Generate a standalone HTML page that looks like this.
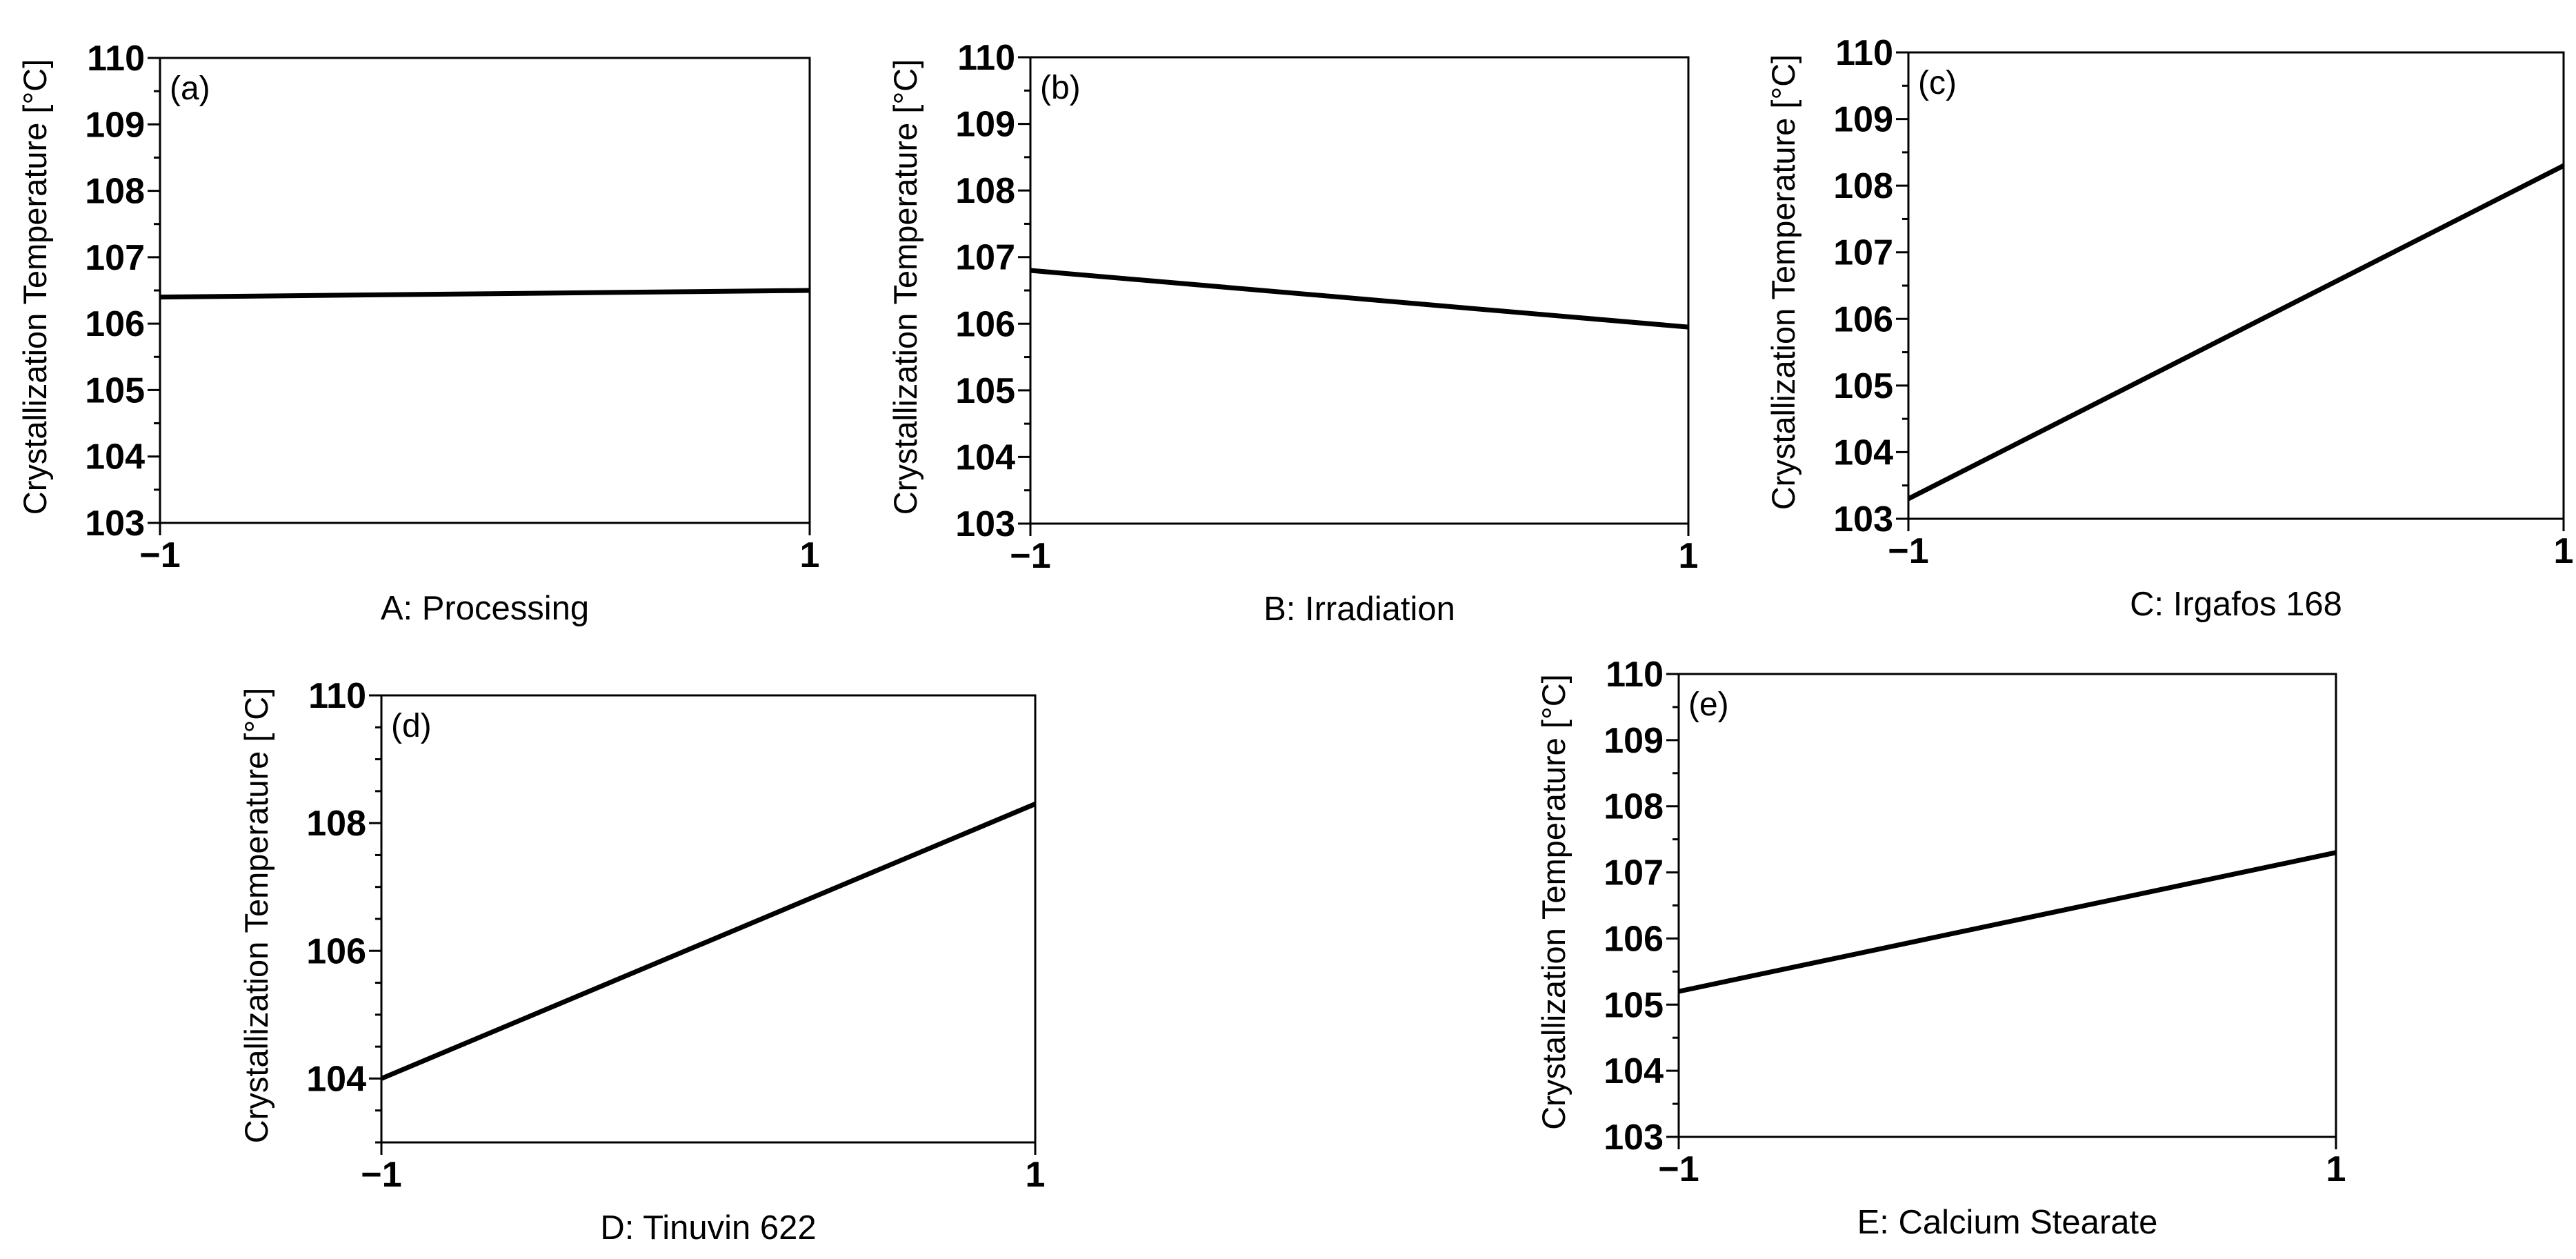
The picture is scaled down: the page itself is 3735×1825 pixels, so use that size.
<!DOCTYPE html>
<html><head><meta charset="utf-8"><style>
html,body{margin:0;padding:0;background:#fff;}
svg{display:block;font-family:"Liberation Sans",Arial,sans-serif;}
</style></head><body>
<svg id="fig" width="3735" height="1825" viewBox="0 0 3735 1825" xmlns="http://www.w3.org/2000/svg">
<rect x="0" y="0" width="3735" height="1825" fill="#fff"/>
</svg>
<script>
// Data per panel
const panelIds = ['a','b','c','d','e'];
const xLabels = ['A: Processing','B: Irradiation','C: Irgafos 168','D: Tinuvin 622','E: Calcium Stearate'];
const xValues = [-1, 1];
const seriesA = [106.4, 106.5];
const seriesB = [106.8, 105.95];
const seriesC = [103.3, 108.3];
const seriesD = [104.0, 108.3];
const seriesE = [105.2, 107.3];
const yTicksStep1 = [103,104,105,106,107,108,109,110];
const yTicksStep2 = [104,106,108,110];
const xTickLabels = ['\u22121','1'];

const series = [seriesA, seriesB, seriesC, seriesD, seriesE];
const layouts = [
  {l:232,r:1174,t:84,b:758},
  {l:1494,r:2448,t:83,b:759},
  {l:2767,r:3717,t:76,b:752},
  {l:553,r:1501,t:1008,b:1656},
  {l:2434,r:3387,t:977,b:1648}
];
const yTickSets = [yTicksStep1,yTicksStep1,yTicksStep1,yTicksStep2,yTicksStep1];
const yMin = 103, yMax = 110;
const NS = 'http://www.w3.org/2000/svg';
const svg = document.getElementById('fig');
function mk(tag, attrs, parent){
  const e = document.createElementNS(NS, tag);
  for (const k in attrs) e.setAttribute(k, attrs[k]);
  parent.appendChild(e);
  return e;
}
panelIds.forEach((id, i) => {
  const L = layouts[i];
  const g = mk('g', {}, svg);
  
  
  const xs = v => L.l + (v - (-1)) / 2 * (L.r - L.l);
  const ys = v => L.b - (v - yMin) / (yMax - yMin) * (L.b - L.t);
  const frame = mk('rect', {x:L.l, y:L.t, width:L.r-L.l, height:L.b-L.t, fill:'none', stroke:'#000', 'stroke-width':3}, g);
  
  
  for (let v = yMin; v <= yMax + 1e-9; v += 0.5) {
    const isMajor = yTickSets[i].some(t => Math.abs(t - v) < 1e-9);
    const len = isMajor ? 18 : 9;
    const tk = mk('line', {x1:L.l-len, x2:L.l, y1:ys(v), y2:ys(v), stroke:'#000', 'stroke-width':3}, g);
    
    
  }
  yTickSets[i].forEach(v => {
    const t = mk('text', {x:L.l-22, y:ys(v)+18, 'text-anchor':'end', 'font-size':52, 'font-weight':'bold', fill:'#000'}, g);
    
    
    t.textContent = String(v);
  });
  xValues.forEach((v, j) => {
    const tk = mk('line', {x1:xs(v), x2:xs(v), y1:L.b, y2:L.b+18, stroke:'#000', 'stroke-width':3}, g);
    
    
    const t = mk('text', {x:xs(v), y:L.b+64, 'text-anchor':'middle', 'font-size':52, 'font-weight':'bold', fill:'#000'}, g);
    
    
    t.textContent = xTickLabels[j];
  });
  const xl = mk('text', {x:(L.l+L.r)/2, y:L.b+140, 'text-anchor':'middle', 'font-size':49, fill:'#000'}, g);
  
  
  xl.textContent = xLabels[i];
  const cy = (L.t + L.b) / 2 - 5;
  const cx = L.l - 165;
  const yl = mk('text', {x:cx, y:cy, 'text-anchor':'middle', 'font-size':47, fill:'#000', transform:'rotate(-90 '+cx+' '+cy+')'}, g);
  
  
  yl.textContent = 'Crystallization Temperature [\u00B0C]';
  const pl = mk('text', {x:L.l+14, y:L.t+60, 'font-size':48, fill:'#000'}, g);
  
  
  pl.textContent = '(' + id + ')';
  const s = series[i];
  const ln = mk('line', {x1:xs(xValues[0]), y1:ys(s[0]), x2:xs(xValues[1]), y2:ys(s[1]), stroke:'#000', 'stroke-width':7}, g);
  
  
});
</script>
</body></html>
